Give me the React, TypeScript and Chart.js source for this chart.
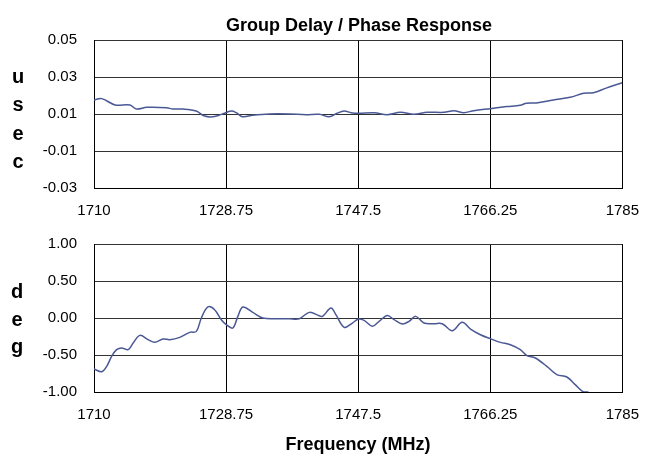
import React, { useEffect, useRef } from "react";
import { Chart, registerables } from "chart.js";

Chart.register(...registerables);

// ---- data ----
const freqTicks = [1710, 1728.75, 1747.5, 1766.25, 1785];
const delayTicks = [-0.03, -0.01, 0.01, 0.03, 0.05];
const phaseTicks = [-1, -0.5, 0, 0.5, 1];

const delayFreq = [
  1710.0, 1711.1, 1713.0, 1715.1, 1716.0, 1717.5, 1720.3, 1721.2, 1722.6, 1724.5,
  1725.7, 1726.9, 1728.1, 1729.5, 1730.2, 1731.1, 1732.5, 1734.9, 1737.7, 1740.1,
  1742.0, 1743.4, 1744.5, 1745.5, 1746.5, 1747.5, 1749.8, 1751.6, 1753.5, 1755.4,
  1757.3, 1759.7, 1761.1, 1762.5, 1763.9, 1766.3, 1768.6, 1770.5, 1771.4, 1772.8,
  1775.2, 1777.6, 1779.5, 1780.9, 1782.7, 1785.0,
];
const delayValues = [
  0.0176, 0.0183, 0.0149, 0.0149, 0.0127, 0.0136, 0.0134, 0.0127, 0.0127, 0.0116,
  0.0089, 0.0085, 0.0098, 0.0116, 0.0107, 0.0085, 0.0093, 0.01, 0.01, 0.0096,
  0.0098, 0.0085, 0.0104, 0.0116, 0.0107, 0.0104, 0.0107, 0.0096, 0.0109, 0.0098,
  0.0109, 0.0109, 0.0118, 0.0107, 0.0118, 0.0129, 0.014, 0.0147, 0.0158, 0.016,
  0.0176, 0.019, 0.0212, 0.0215, 0.024, 0.0269,
];

const phaseFreq = [
  1710.0, 1711.09, 1711.8, 1712.5, 1713.21, 1713.92, 1714.85, 1715.56, 1716.51, 1717.68,
  1718.63, 1719.81, 1720.75, 1722.17, 1723.58, 1724.53, 1725.24, 1726.17, 1727.12, 1728.07,
  1728.78, 1729.71, 1730.42, 1731.13, 1732.54, 1733.96, 1735.85, 1737.74, 1739.15, 1740.57,
  1741.98, 1742.45, 1743.64, 1744.34, 1745.52, 1746.69, 1747.54, 1748.35, 1749.52, 1750.47,
  1751.65, 1752.6, 1753.77, 1754.72, 1755.67, 1756.84, 1758.25, 1759.43, 1760.85, 1762.26,
  1763.45, 1764.86, 1766.28, 1767.69, 1769.11, 1770.52, 1771.46, 1772.65, 1774.29, 1775.7,
  1777.12, 1778.31, 1779.48, 1780.19,
];
const phaseValues = [
  -0.689, -0.726, -0.654, -0.519, -0.428, -0.405, -0.428, -0.338, -0.235, -0.293,
  -0.329, -0.284, -0.293, -0.262, -0.194, -0.181, 0.0, 0.149, 0.112, -0.023,
  -0.09, -0.135, 0.022, 0.149, 0.076, 0.0, -0.01, -0.01, -0.01, 0.076,
  0.031, 0.022, 0.135, 0.045, -0.126, -0.068, -0.014, -0.032, -0.113, -0.045,
  0.035, -0.023, -0.081, -0.045, 0.022, -0.068, -0.077, -0.077, -0.172, -0.059,
  -0.149, -0.226, -0.28, -0.329, -0.361, -0.428, -0.509, -0.541, -0.654, -0.766,
  -0.797, -0.901, -1.0, -1.0,
];

const LINE_COLOR = "#4a5894";
const FONT = "'Liberation Sans', Arial, sans-serif";

function makeConfig(
  xs: number[],
  ys: number[],
  yTicks: number[],
  padTop: number,
  xAxisHeight: number
): any {
  return {
    type: "line",
    data: {
      datasets: [
        {
          data: xs.map((x, i) => ({ x, y: ys[i] })),
          borderColor: LINE_COLOR,
          borderWidth: 1.5,
          pointRadius: 0,
          tension: 0.35,
          fill: false,
        },
      ],
    },
    options: {
      animation: false,
      responsive: false,
      maintainAspectRatio: false,
      layout: { padding: { top: padTop, right: 29, left: 0, bottom: 0 } },
      plugins: {
        legend: { display: false },
        tooltip: { enabled: false },
        title: { display: false },
      },
      scales: {
        x: {
          type: "linear",
          min: freqTicks[0],
          max: freqTicks[freqTicks.length - 1],
          afterBuildTicks: (s: any) => {
            s.ticks = freqTicks.map((v) => ({ value: v }));
          },
          afterFit: (s: any) => {
            s.height = xAxisHeight;
          },
          grid: { color: "#000", lineWidth: 1, drawTicks: false },
          border: { color: "#000", width: 1 },
          ticks: {
            padding: 14,
            color: "#000",
            autoSkip: false,
            maxRotation: 0,
            font: { family: FONT, size: 15 },
            callback: (v: any) => String(v),
          },
        },
        y: {
          type: "linear",
          min: yTicks[0],
          max: yTicks[yTicks.length - 1],
          afterBuildTicks: (s: any) => {
            s.ticks = yTicks.map((v) => ({ value: v }));
          },
          afterFit: (s: any) => {
            s.width = 94;
          },
          grid: { color: "#333", lineWidth: 1, drawTicks: false },
          border: { color: "#000", width: 1 },
          ticks: {
            padding: 17,
            color: "#000",
            font: { family: FONT, size: 15 },
            callback: (v: any) => Number(v).toFixed(2),
          },
        },
      },
    },
  };
}

function ChartCanvas(props: { top: number; height: number; config: any }) {
  const ref = useRef<HTMLCanvasElement>(null);
  useEffect(() => {
    if (!ref.current) return;
    const chart = new Chart(ref.current, props.config);
    return () => chart.destroy();
  }, []);
  return (
    <canvas
      ref={ref}
      width={653}
      height={props.height}
      style={{
        position: "absolute",
        left: 0,
        top: props.top,
        width: 653,
        height: props.height,
      }}
    />
  );
}

export default function App() {
  const boldText: React.CSSProperties = {
    position: "absolute",
    fontFamily: FONT,
    fontWeight: "bold",
    color: "#000",
    whiteSpace: "pre",
  };
  return (
    <div
      style={{
        position: "absolute",
        left: 0,
        top: 0,
        width: 653,
        height: 461,
        background: "#fff",
        overflow: "hidden",
      }}
    >
      <ChartCanvas top={0} height={222} config={makeConfig(delayFreq, delayValues, delayTicks, 40, 34)} />
      <ChartCanvas top={218} height={243} config={makeConfig(phaseFreq, phaseValues, phaseTicks, 26, 69)} />
      <div
        style={{
          ...boldText,
          left: 359,
          top: 15,
          transform: "translateX(-50%)",
          fontSize: 18,
          lineHeight: "20px",
        }}
      >
        Group Delay / Phase Response
      </div>
      <div
        style={{
          ...boldText,
          left: 358,
          top: 434,
          transform: "translateX(-50%)",
          fontSize: 18,
          lineHeight: "20px",
        }}
      >
        Frequency (MHz)
      </div>
      <div
        style={{
          ...boldText,
          left: 18,
          top: 62,
          transform: "translateX(-50%)",
          fontSize: 20,
          lineHeight: "28.3px",
          textAlign: "center",
        }}
      >
        {"u\ns\ne\nc"}
      </div>
      <div
        style={{
          ...boldText,
          left: 17,
          top: 278,
          transform: "translateX(-50%)",
          fontSize: 20,
          lineHeight: "27.5px",
          textAlign: "center",
        }}
      >
        {"d\ne\ng"}
      </div>
    </div>
  );
}
